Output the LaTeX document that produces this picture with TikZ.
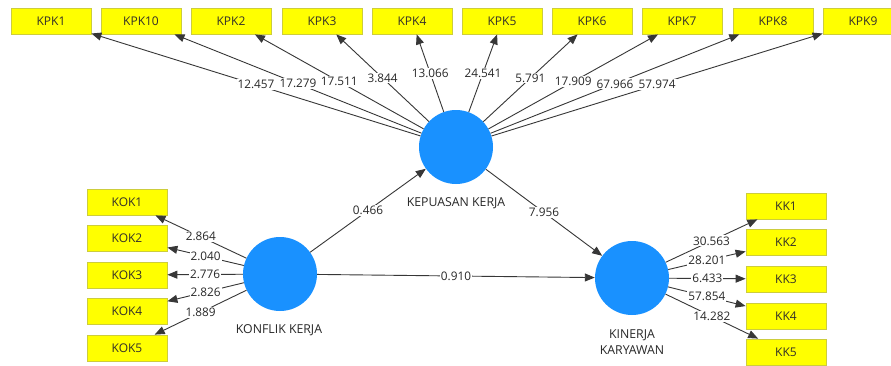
\documentclass[tikz,border=0pt]{standalone}
\usepackage{fontspec}
\setmainfont{Open Sans}
\usetikzlibrary{arrows.meta}
\definecolor{indfill}{RGB}{255,255,0}
\definecolor{inddraw}{RGB}{205,205,60}
\definecolor{lvfill}{RGB}{25,145,255}
\definecolor{lnc}{RGB}{55,55,55}
\definecolor{txt}{RGB}{40,40,40}
\begin{document}
\begin{tikzpicture}[x=1pt,y=-1pt,
  indbox/.style={draw=inddraw, line width=0.8pt, fill=indfill, minimum width=80pt, minimum height=26pt, inner sep=0pt, font=\fontsize{12}{14}\selectfont, text=black!85!olive},
  lvnode/.style={circle, fill=lvfill, minimum size=74pt, inner sep=0pt},
  lvlabel/.style={font=\fontsize{12.3}{16}\selectfont, text=txt, align=center, inner sep=0pt},
  arr/.style={draw=lnc, line width=0.9pt, -{Triangle[length=10pt,width=8pt]}},
  val/.style={fill=white, inner sep=1pt, font=\fontsize{11.8}{13}\selectfont, text=txt}
]
\useasboundingbox (0,0) rectangle (891,365);
\fill[white] (0,0) rectangle (891,365);

% latent variables
\node[lvnode] (kep) at (456,147) {};
\node[lvnode] (kon) at (280,274) {};
\node[lvnode] (kin) at (632,278) {};
\node[lvlabel] (kepl) at (456,203) {KEPUASAN KERJA};
\node[lvlabel] (konl) at (279,330) {KONFLIK KERJA};
\node[lvlabel] (kinl) at (632,342) {KINERJA\\KARYAWAN};

% top indicators
\node[indbox] (kpk1)  at (51,21)  {KPK1};
\node[indbox] (kpk10) at (141,21) {KPK10};
\node[indbox] (kpk2)  at (231,21) {KPK2};
\node[indbox] (kpk3)  at (322,21) {KPK3};
\node[indbox] (kpk4)  at (412,21) {KPK4};
\node[indbox] (kpk5)  at (502,21) {KPK5};
\node[indbox] (kpk6)  at (592,21) {KPK6};
\node[indbox] (kpk7)  at (682,21) {KPK7};
\node[indbox] (kpk8)  at (773,21) {KPK8};
\node[indbox] (kpk9)  at (863,21) {KPK9};

% left indicators
\node[indbox] (kok1) at (127,202) {KOK1};
\node[indbox] (kok2) at (127,238) {KOK2};
\node[indbox] (kok3) at (127,275) {KOK3};
\node[indbox] (kok4) at (127,311) {KOK4};
\node[indbox] (kok5) at (127,348) {KOK5};

% right indicators
\node[indbox] (kk1) at (786,206) {KK1};
\node[indbox] (kk2) at (786,242) {KK2};
\node[indbox] (kk3) at (786,279) {KK3};
\node[indbox] (kk4) at (786,316) {KK4};
\node[indbox] (kk5) at (786,352) {KK5};

% connectors
\foreach \t in {kpk1,kpk10,kpk2,kpk3,kpk4,kpk5,kpk6,kpk7,kpk8,kpk9}
  \draw[arr] (kep) -- (\t);
\foreach \t in {kok1,kok2,kok3,kok4,kok5}
  \draw[arr] (kon) -- (\t);
\foreach \t in {kk1,kk2,kk3,kk4,kk5}
  \draw[arr] (kin) -- (\t);
\draw[arr] (kon) -- (kep);
\draw[arr] (kep) -- (kin);
\draw[arr] (kon) -- (kin);

% values
\path (kep) -- node[val]{12.457} (kpk1);
\path (kep) -- node[val]{17.279} (kpk10);
\path (kep) -- node[val]{17.511} (kpk2);
\path (kep) -- node[val]{3.844} (kpk3);
\path (kep) -- node[val]{13.066} (kpk4);
\path (kep) -- node[val]{24.541} (kpk5);
\path (kep) -- node[val]{5.791} (kpk6);
\path (kep) -- node[val]{17.909} (kpk7);
\path (kep) -- node[val]{67.966} (kpk8);
\path (kep) -- node[val]{57.974} (kpk9);
\path (kon) -- node[val]{2.864} (kok1);
\path (kon) -- node[val]{2.040} (kok2);
\path (kon) -- node[val]{2.776} (kok3);
\path (kon) -- node[val]{2.826} (kok4);
\path (kon) -- node[val]{1.889} (kok5);
\path (kin) -- node[val]{30.563} (kk1);
\path (kin) -- node[val]{28.201} (kk2);
\path (kin) -- node[val]{6.433} (kk3);
\path (kin) -- node[val]{57.854} (kk4);
\path (kin) -- node[val]{14.282} (kk5);
\path (kon) -- node[val]{0.466} (kep);
\path (kep) -- node[val]{7.956} (kin);
\path (kon) -- node[val]{0.910} (kin);
\end{tikzpicture}
\end{document}
